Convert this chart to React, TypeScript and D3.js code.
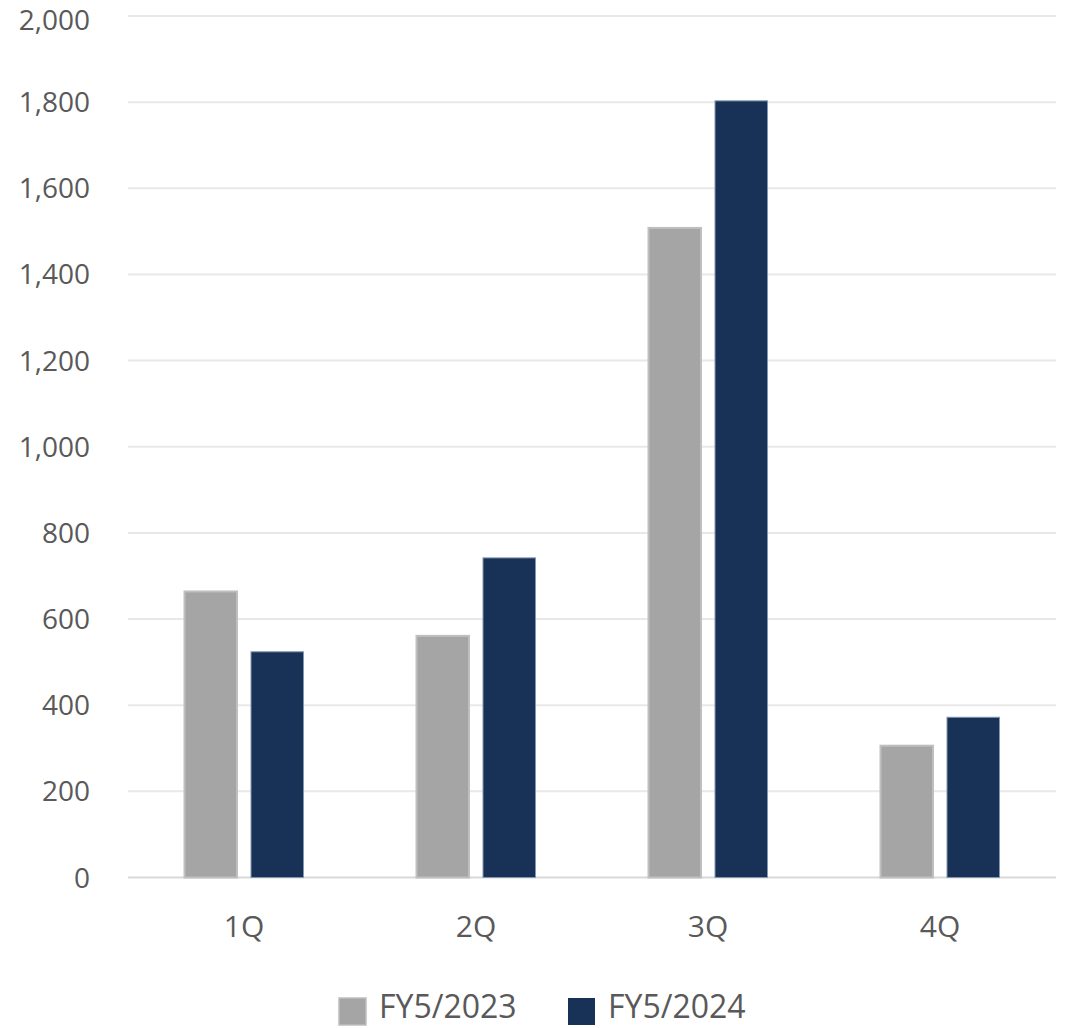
import React from "react";
import * as d3 from "d3";

const categories = ["1Q", "2Q", "3Q", "4Q"];
const seriesNames = ["FY5/2023", "FY5/2024"];
const fy2023 = [664, 561, 1508, 306];
const fy2024 = [524, 742, 1803, 372];
const yTicks = [0, 200, 400, 600, 800, 1000, 1200, 1400, 1600, 1800, 2000];

const W = 1071;
const H = 1028;
const FONT = "'Open Sans', 'Liberation Sans', sans-serif";
const fills = ["#a5a5a5", "#173256"];
const strokes = ["#bfbfbf", "#8497b0"];

export default function App() {
  const left = 128;
  const right = 1056;
  const top = 16;
  const bottom = 877.5;

  const x0 = d3.scaleBand<string>().domain(categories).range([left, right]).padding(0);
  const bw = x0.bandwidth();
  const groupW = 119;
  const x1 = d3
    .scaleBand<string>()
    .domain(seriesNames)
    .range([(bw - groupW) / 2, (bw + groupW) / 2])
    .paddingInner(0.2105)
    .paddingOuter(0);
  const y = d3.scaleLinear().domain([0, 2000]).range([bottom, top]);
  const values = [fy2023, fy2024];
  const fmt = d3.format(",");

  return (
    <svg
      width={W}
      height={H}
      style={{ position: "absolute", left: 0, top: 0, background: "#fff" }}
      fontFamily={FONT}
    >
      {yTicks.map((t) => (
        <g key={t}>
          <line x1={left} x2={right} y1={y(t)} y2={y(t)} stroke={t === 0 ? "#d9d9d9" : "#e8e8e8"} strokeWidth={2} />
          {/* keep the topmost label's ascent inside the page */}
          <text x={90} y={Math.max(y(t) + 10, 30)} textAnchor="end" fontSize={28} fill="#595959">
            {fmt(t)}
          </text>
        </g>
      ))}
      {categories.map((c, i) => (
        <g key={c} transform={`translate(${x0(c)},0)`}>
          {seriesNames.map((s, k) => {
            const v = values[k][i];
            return (
              <rect
                key={s}
                x={x1(s)}
                y={y(v)}
                width={x1.bandwidth()}
                height={bottom - y(v)}
                fill={fills[k]}
                stroke={strokes[k]}
                strokeWidth={k === 0 ? 2 : 1}
              />
            );
          })}
          <text x={bw / 2} y={937} textAnchor="middle" fontSize={30} fill="#595959">
            {c}
          </text>
        </g>
      ))}
      {seriesNames.map((s, k) => {
        const lx = [339, 568][k];
        return (
          <g key={s}>
            <rect x={lx} y={998} width={27} height={27} fill={fills[k]} stroke={k === 0 ? strokes[0] : "none"} strokeWidth={1.5} />
            <text x={lx + 40} y={1018} fontSize={32} fill="#595959">
              {s}
            </text>
          </g>
        );
      })}
    </svg>
  );
}
